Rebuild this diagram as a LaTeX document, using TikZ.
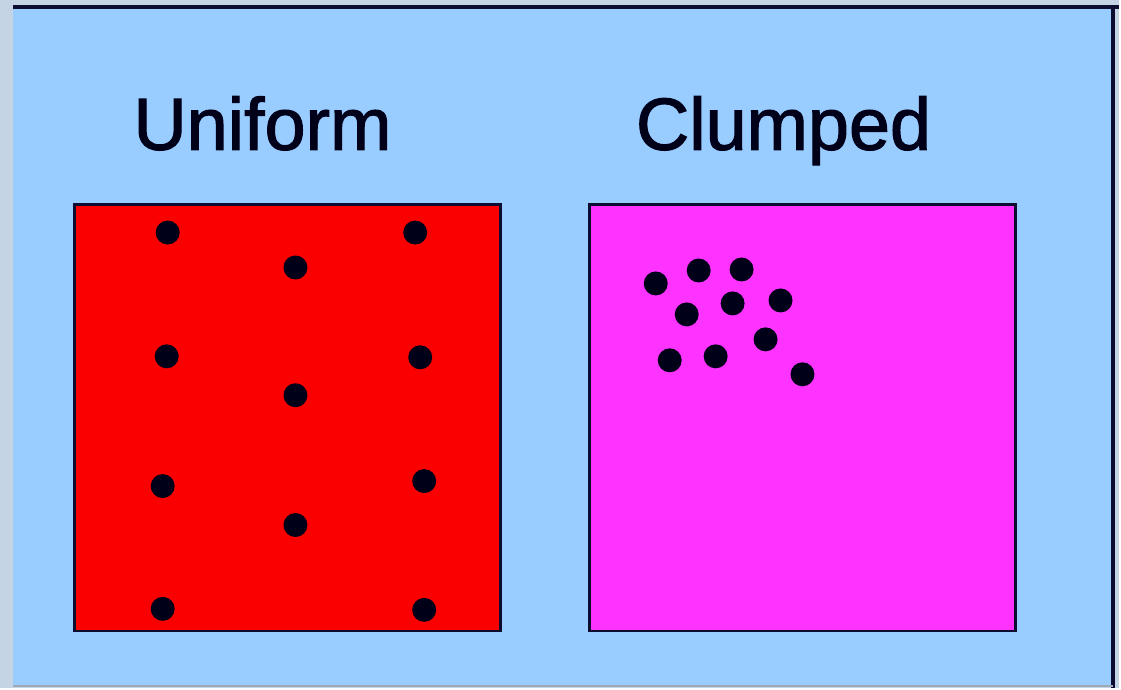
\documentclass[tikz,border=0pt]{standalone}
\usepackage{fontspec}
\setmainfont{Liberation Sans}
\newfontfamily\titlefont[FakeBold=1.6]{Liberation Sans}
\usepackage{xcolor}
\usetikzlibrary{positioning}
\definecolor{framegrey}{RGB}{196,212,228}
\definecolor{skyblue}{RGB}{153,204,255}
\definecolor{edgenavy}{RGB}{12,12,48}
\definecolor{plotred}{RGB}{250,0,0}
\definecolor{plotpink}{RGB}{255,51,255}
\begin{document}
\begin{tikzpicture}[
    x=0.01cm, y=-0.01cm,
    plot/.style={draw=edgenavy, line width=0.8pt, minimum width=4.26cm, minimum height=4.27cm, inner sep=0pt},
    dot/.style={circle, fill=black!90!blue, minimum size=0.24cm, inner sep=0pt},
    title/.style={font=\titlefont\fontsize{21}{25}\selectfont, text=black!90!blue, anchor=base}
  ]
    % background and frame
    \fill[framegrey] (0,0) rectangle (1121,689);
    \fill[skyblue] (13,8) rectangle (1115,686);
    \draw[edgenavy, line width=1.2pt] (13,7) -- (1121,7);
    \draw[edgenavy, line width=1pt] (1115,7) -- (1115,689);
    \draw[framegrey!80!black, line width=0.5pt] (13,687) -- (1115,687);

    % the two plots
    \node[plot, fill=plotred] (uniform) at (288,418.5) {};
    \node[plot, fill=plotpink] (clumped) at (804,418.5) {};
    \node[title] (uniformlabel) at (263,150) {Uniform};
    \node[title] (clumpedlabel) at (785,150) {Clumped};

    % evenly spread individuals
    \foreach \px/\py [count=\i] in {168/233, 416/233, 296/268, 167/357, 421/358, 296/396,
                                    163/487, 425/482, 296/526, 163/610, 425/611}
      \node[dot] (u\i) at (\px,\py) {};

    % grouped individuals
    \foreach \px/\py [count=\i] in {657/284, 700/271, 743/270, 688/315, 734/304,
                                    782/301, 767/340, 671/361, 717/357, 804/375}
      \node[dot] (c\i) at (\px,\py) {};
  \end{tikzpicture}
\end{document}
